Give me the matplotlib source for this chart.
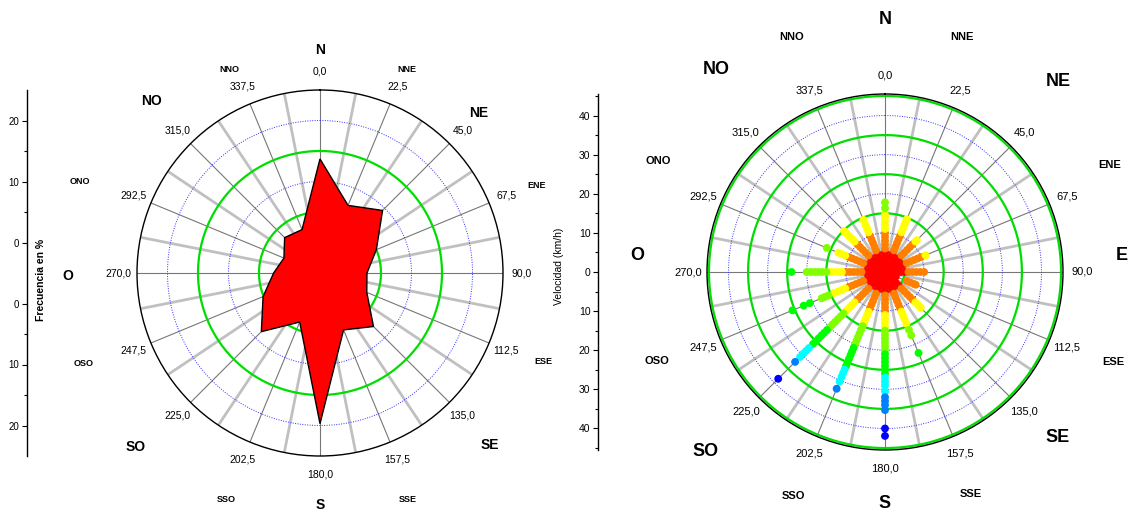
import numpy as np
import matplotlib
matplotlib.use("Agg")
import matplotlib.pyplot as plt

W, H = 1130, 511
plt.rcParams["font.family"] = ["Liberation Sans", "DejaVu Sans"]

# rosa de frecuencias (%)
direcciones = [0.0, 22.5, 45.0, 67.5, 90.0, 112.5, 135.0, 157.5,
               180.0, 202.5, 225.0, 247.5, 270.0, 292.5, 315.0, 337.5]
frecuencia = [13.7, 7.0, 9.5, 5.0, 2.7, 3.3, 7.4, 5.1,
              19.7, 3.7, 8.6, 5.1, 2.6, 1.4, 3.2, 2.7]

# velocidades (km/h) observadas en cada direccion
vel_N = [0, 1, 2, 3, 4, 5, 6, 7, 8, 9, 10, 11, 12, 13, 14, 14.6, 16.3, 17.8]
vel_NNE = [0, 1, 2, 3, 4, 5, 6, 7, 8, 9, 10, 11, 12, 13, 14, 14.6]
vel_NE = [0, 1, 2, 3, 4, 5, 6, 7, 8, 9, 10, 11, 11.5]
vel_ENE = [0, 1, 2, 3, 4, 5, 6, 7, 8, 9, 10, 11.2]
vel_E = [0, 1, 2, 3, 4, 5, 6, 7, 8, 9, 10]
vel_ESE = [0, 1, 2, 3, 6, 7, 8, 8.5]
vel_SE = [0, 1, 2, 3, 4, 5, 6, 7, 8, 9, 10, 11, 12, 12.9]
vel_SSE = [0, 1, 2, 3, 4, 5, 6, 7, 8, 9, 10, 11, 12, 13, 14.3, 16, 17.5, 22.4]
vel_S = [0, 1, 2, 3, 4, 5, 6, 7, 8, 9, 10, 11, 12, 13, 14, 15, 16, 17, 18,
         19, 20, 21, 22, 23, 24, 25, 26, 27, 28, 29, 30.5, 32, 33, 34, 35.3,
         40, 41.9]
vel_SSO = [0, 1, 2, 3, 4, 5, 6, 7, 8, 9, 10, 11, 12, 13, 14, 15, 16, 17, 18,
           19, 20, 21, 22, 23, 24, 25, 26, 27, 28, 29, 30.3, 32.3]
vel_SO = [0, 1, 2, 3, 4, 5, 6, 7, 8, 9, 10, 11, 12, 13, 14, 15, 16, 17, 18,
          19, 20, 21, 22, 23, 24, 25, 26, 27.5, 28.5, 29.5, 30.7, 32.5, 38.6]
vel_OSO = [0, 1, 2, 3, 4, 5, 6, 7, 8, 9, 10, 11, 12, 13, 14, 15.7, 16.6,
           17.5, 20.8, 22.5, 25.6]
vel_O = [0, 1, 2, 3, 4, 5, 6, 7, 8, 9, 10, 11, 12, 13, 14, 15, 16, 17, 18,
         19, 20, 23.9]
vel_ONO = [0, 1, 2, 3, 4, 5, 6, 7, 8, 9, 10, 11, 12, 12.9, 16.1]
vel_NO = [0, 1, 2, 3, 4, 5, 6, 7, 8, 9, 10, 11, 12, 13, 14, 14.8]
vel_NNO = [0, 1, 2, 3, 4, 5, 6, 7, 8, 9, 10, 11, 12, 13, 14.4]

velocidades = [vel_N, vel_NNE, vel_NE, vel_ENE, vel_E, vel_ESE, vel_SE, vel_SSE,
               vel_S, vel_SSO, vel_SO, vel_OSO, vel_O, vel_ONO, vel_NO, vel_NNO]

limites_color = [5.5, 10.5, 15, 20.3, 26.3, 31, 37]
colores = ["#ff0000", "#ff8000", "#ffff00", "#80ff00",
           "#00ff00", "#00ffff", "#0080ff", "#0000ff"]

puntos = ["N", "NNE", "NE", "ENE", "E", "ESE", "SE", "SSE",
          "S", "SSO", "SO", "OSO", "O", "ONO", "NO", "NNO"]

# posiciones (px) de los rotulos de rumbo
pos_izq = [(320, 50), (407, 69), (479, 113), (537, 185), None, (543, 362),
           (490, 445), (408, 499), (320, 505), (226, 500), (136, 447),
           (84, 364), (68, 276), (80, 182), (152, 101), (229, 69)]
pos_der = [(885, 20), (962, 37), (1058, 82), (1110, 165), (1122, 256),
           (1113, 362), (1058, 437), (971, 494), (885, 503), (793, 496),
           (706, 452), (657, 361), (637, 255), (658, 161), (716, 69),
           (792, 37)]


def px(x, y):
    return x / W, 1 - y / H


def box(cx, cy, r):
    return [(cx - r) / W, 1 - (cy + r) / H, 2 * r / W, 2 * r / H]


def polar_base(ax, rmin, rmax, verdes, azules, fs):
    ax.set_theta_zero_location("N")
    ax.set_theta_direction(-1)
    ax.set_ylim(rmin, rmax)
    ax.grid(False)
    ax.set_yticks([])
    ax.set_thetagrids(direcciones, [f"{d:.1f}".replace(".", ",") for d in direcciones],
                      fontsize=fs)
    ax.tick_params(axis="x", pad=3)
    ax.spines["polar"].set_linewidth(1.0)
    for i, a in enumerate(np.arange(0, 360, 11.25)):
        t = np.radians(a)
        if i % 2 == 0:
            ax.plot([t, t], [rmin, rmax], color="#777777", lw=0.8, zorder=1)
        else:
            ax.plot([t, t], [rmin, rmax], color="#c0c0c0", lw=2.0, zorder=1)
    th = np.linspace(0, 2 * np.pi, 400)
    for r in verdes:
        ax.plot(th, np.full_like(th, r), color="#00dd00", lw=1.6, zorder=2)
    for r in azules:
        ax.plot(th, np.full_like(th, r), color="#3030ff", lw=0.7,
                ls=(0, (1, 1.5)), zorder=2)


def eje_radial(fig, x, cy, r, vmax, ticks, labels, minors, fs):
    ax = fig.add_axes([x / W, 1 - (cy + r) / H, 0.0001, 2 * r / H])
    ax.set_ylim(-vmax, vmax)
    for s in ["top", "right", "bottom"]:
        ax.spines[s].set_visible(False)
    ax.spines["left"].set_linewidth(1.0)
    ax.set_xticks([])
    ax.set_yticks(ticks)
    ax.set_yticklabels(labels, fontsize=fs)
    ax.set_yticks(minors, minor=True)
    ax.tick_params(axis="y", which="major", length=3.5, width=0.8, pad=2)
    ax.tick_params(axis="y", which="minor", length=2, width=0.8)
    ax.patch.set_alpha(0)
    return ax


fig = plt.figure(figsize=(W / 100, H / 100), dpi=100)

# --- rosa de frecuencias ---
ax1 = fig.add_axes(box(320, 273, 183), projection="polar")
polar_base(ax1, -5, 25, [5, 15], [10, 20], 7.5)
th1 = np.radians(direcciones + direcciones[:1])
ax1.fill(th1, frecuencia + frecuencia[:1], facecolor="#ff0000",
         edgecolor="black", lw=1.0, zorder=3)

eje_radial(fig, 27, 273, 183, 30, [-25, -15, -5, 5, 15, 25],
           ["20", "10", "0", "0", "10", "20"], [-20, -10, 10, 20], 7)
fig.text(*px(41, 280), "Frecuencia en %", rotation=90, ha="center",
         va="center", fontsize=7.5, fontweight="bold")

# --- rosa de velocidades ---
ax2 = fig.add_axes(box(885, 272, 178), projection="polar")
polar_base(ax2, 0, 45.5, [5, 15, 25, 35, 45], [10, 20, 30, 40], 8)
for d, vals in zip(direcciones, velocidades):
    v = np.array(vals, dtype=float)
    idx = np.digitize(v, limites_color)
    ax2.scatter(np.full_like(v, np.radians(d)), v,
                c=[colores[i] for i in idx], s=32, linewidths=0, zorder=4)

eje_radial(fig, 598, 272, 178, 45.5, [-40, -30, -20, -10, 0, 10, 20, 30, 40],
           ["40", "30", "20", "10", "0", "10", "20", "30", "40"],
           [-45, -35, -25, -15, -5, 5, 15, 25, 35, 45], 7.5)
fig.text(*px(559, 266), "Velocidad (km/h)", rotation=90, ha="center",
         va="center", fontsize=7.5)

# rotulos de rumbo
for i, nombre in enumerate(puntos):
    grande = i % 2 == 0
    if pos_izq[i] is not None:
        fig.text(*px(*pos_izq[i]), nombre, ha="center", va="center",
                 fontweight="bold", fontsize=10 if grande else 6.5)
    fig.text(*px(*pos_der[i]), nombre, ha="center", va="center",
             fontweight="bold", fontsize=13 if grande else 8)

fig.savefig("out.png", dpi=100)
